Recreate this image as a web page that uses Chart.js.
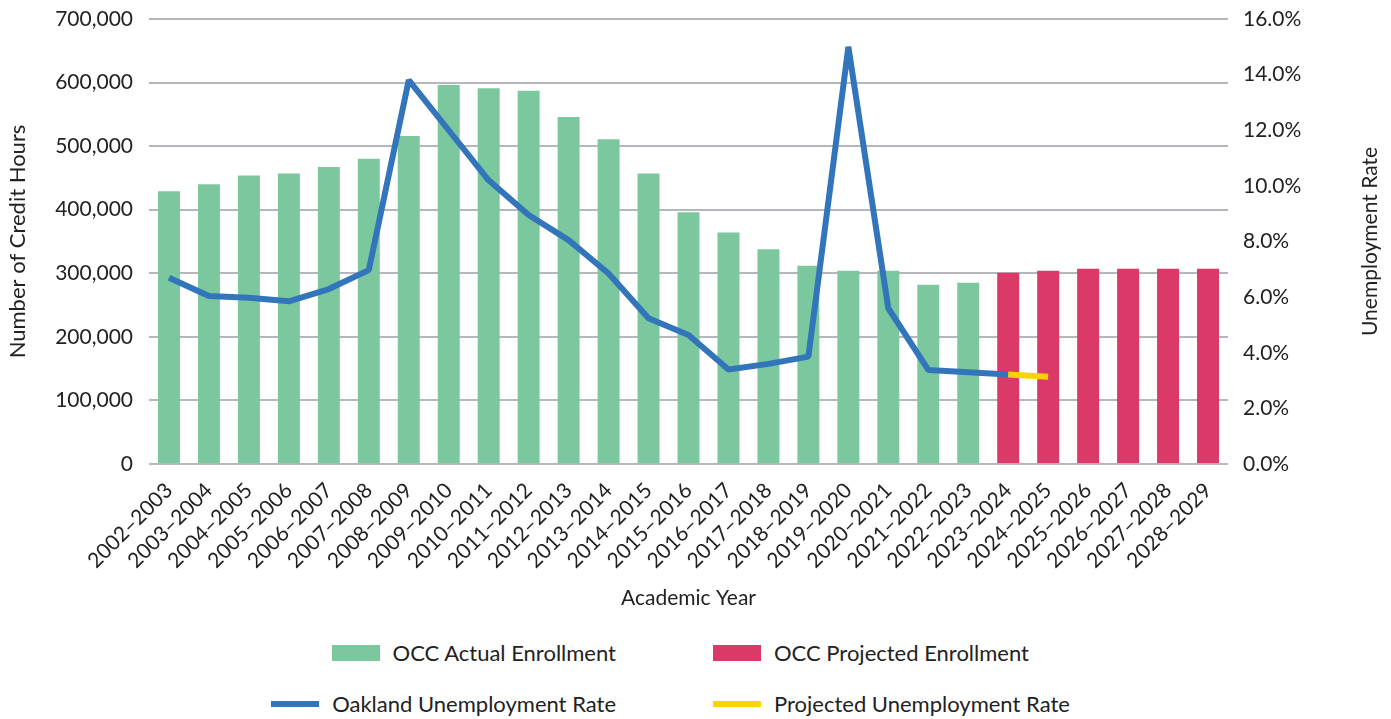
<!DOCTYPE html>
<html>
<head>
<meta charset="utf-8">
<script src="https://cdn.jsdelivr.net/npm/chart.js@4.4.1/dist/chart.umd.min.js"></script>
<style>
  html, body { margin: 0; padding: 0; background: #fff; }
  body { width: 1391px; height: 719px; position: relative; overflow: hidden; font-family: Lato, sans-serif; color: #222; }
  #wrap { position: absolute; left: 0; top: 0; width: 1391px; height: 625px; }
  #legend { position: absolute; left: 0; top: 627px; display: grid; grid-template-columns: 616px auto; column-gap: 97px; grid-auto-rows: 51px; font-size: 22px; }
  .item { display: flex; align-items: center; }
  .item.left { justify-self: end; }
  .swatch { width: 48px; margin-right: 13px; }
</style>
</head>
<body>
<div id="wrap"><canvas id="chart"></canvas></div>
<div id="legend"></div>
<script>
var years = [
    '2002–2003', '2003–2004', '2004–2005', '2005–2006', '2006–2007', '2007–2008',
    '2008–2009', '2009–2010', '2010–2011', '2011–2012', '2012–2013', '2013–2014',
    '2014–2015', '2015–2016', '2016–2017', '2017–2018', '2018–2019', '2019–2020',
    '2020–2021', '2021–2022', '2022–2023', '2023–2024', '2024–2025', '2025–2026',
    '2026–2027', '2027–2028', '2028–2029'
];
var actualEnrollment = [
    429000, 440000, 454000, 457000, 467000, 480000, 516000, 596000, 591000, 587000,
    546000, 511000, 457000, 396000, 364000, 338000, 312000, 304000, 304000, 282000,
    285000, null, null, null, null, null, null
];
var projectedEnrollment = [
    null, null, null, null, null, null, null, null, null, null, null, null, null, null,
    null, null, null, null, null, null, null, 301000, 304000, 307000, 307000, 307000, 307000
];
var unemploymentRate = [
    6.7, 6.04, 5.98, 5.85, 6.29, 6.97, 13.8, 12.0, 10.2, 8.95, 8.05, 6.85, 5.24, 4.64,
    3.4, 3.6, 3.86, 15.0, 5.6, 3.38, 3.3, 3.22, null, null, null, null, null
];
var projectedRate = [
    null, null, null, null, null, null, null, null, null, null, null, null, null, null,
    null, null, null, null, null, null, null, 3.22, 3.14, null, null, null, null
];
var leftTicks = { min: 0, max: 700000, step: 100000 };
var rightTicks = { min: 0, max: 16, step: 2 };

var FONT = 'Lato';
var GRID = '#b4b7bb';
var TEXT = '#222';

// right axis title reads bottom-to-top like the left one
var rightTitle = {
    id: 'rightTitle',
    afterDraw: function (chart) {
        var ctx = chart.ctx, area = chart.chartArea;
        ctx.save();
        ctx.translate(1370, (area.top + area.bottom) / 2);
        ctx.rotate(-Math.PI / 2);
        ctx.textAlign = 'center';
        ctx.textBaseline = 'middle';
        ctx.fillStyle = TEXT;
        ctx.font = '21px ' + FONT;
        ctx.fillText('Unemployment Rate', 0, 0);
        ctx.restore();
    }
};

function fixWidth(w) {
    return function (scale) {
        scale.width = w;
        scale.paddingTop = 0;
        scale.paddingBottom = 0;
    };
}

var config = {
    type: 'bar',
    data: {
        labels: years,
        datasets: [{
            type: 'line',
            label: 'Projected Unemployment Rate',
            data: projectedRate,
            yAxisID: 'yRate',
            borderColor: '#fad400',
            backgroundColor: '#fad400',
            borderWidth: 6,
            borderJoinStyle: 'bevel',
            pointRadius: 0,
            tension: 0,
            order: 0
        }, {
            type: 'line',
            label: 'Oakland Unemployment Rate',
            data: unemploymentRate,
            yAxisID: 'yRate',
            borderColor: '#3375bb',
            backgroundColor: '#3375bb',
            borderWidth: 6,
            borderJoinStyle: 'bevel',
            pointRadius: 0,
            tension: 0,
            order: 1
        }, {
            label: 'OCC Actual Enrollment',
            data: actualEnrollment,
            yAxisID: 'yHours',
            backgroundColor: '#7bc89f',
            grouped: false,
            barPercentage: 0.55,
            categoryPercentage: 1,
            order: 2
        }, {
            label: 'OCC Projected Enrollment',
            data: projectedEnrollment,
            yAxisID: 'yHours',
            backgroundColor: '#db3a69',
            grouped: false,
            barPercentage: 0.55,
            categoryPercentage: 1,
            order: 3
        }]
    },
    options: {
        responsive: true,
        maintainAspectRatio: false,
        animation: false,
        layout: { padding: { top: 19, left: 0, right: 0, bottom: 0 } },
        plugins: {
            legend: { display: false },
            tooltip: { enabled: false }
        },
        scales: {
            x: {
                grid: { display: false },
                border: { display: false },
                ticks: {
                    autoSkip: false, maxRotation: 45, minRotation: 45,
                    padding: 6, color: TEXT, font: { family: FONT, size: 21 }
                },
                title: {
                    display: true, text: 'Academic Year', color: TEXT,
                    font: { family: FONT, size: 21 }, padding: { top: 0, bottom: 14 }
                },
                afterFit: function (scale) { scale.height = 161; }
            },
            yHours: {
                position: 'left',
                min: leftTicks.min, max: leftTicks.max,
                grid: { color: GRID, lineWidth: 2, drawTicks: false },
                border: { display: false },
                ticks: {
                    stepSize: leftTicks.step, padding: 16, color: TEXT,
                    font: { family: FONT, size: 21 },
                    callback: function (v) { return v.toLocaleString('en-US'); }
                },
                title: {
                    display: true, text: 'Number of Credit Hours', color: TEXT,
                    font: { family: FONT, size: 22 }, padding: { top: 5, bottom: 0 }
                },
                afterFit: fixWidth(149)
            },
            yRate: {
                position: 'right',
                min: rightTicks.min, max: rightTicks.max,
                grid: { display: false, drawTicks: false },
                border: { display: false },
                ticks: {
                    stepSize: rightTicks.step, padding: 15, color: TEXT,
                    font: { family: FONT, size: 21 },
                    callback: function (v) { return v.toFixed(1) + '%'; }
                },
                afterFit: fixWidth(163)
            }
        }
    },
    plugins: [rightTitle]
};

var chart = new Chart(document.getElementById('chart'), config);

// legend: bars on first row, lines on second, in a two column grid
var legendOrder = [2, 3, 1, 0];
var legend = document.getElementById('legend');
legendOrder.forEach(function (i, n) {
    var ds = chart.data.datasets[i];
    var item = document.createElement('div');
    item.className = 'item' + (n % 2 === 0 ? ' left' : '');
    var sw = document.createElement('span');
    sw.className = 'swatch';
    sw.style.background = ds.type === 'line' ? ds.borderColor : ds.backgroundColor;
    sw.style.height = ds.type === 'line' ? '6px' : '16px';
    var tx = document.createElement('span');
    tx.textContent = ds.label;
    item.appendChild(sw);
    item.appendChild(tx);
    legend.appendChild(item);
});
</script>
</body>
</html>
